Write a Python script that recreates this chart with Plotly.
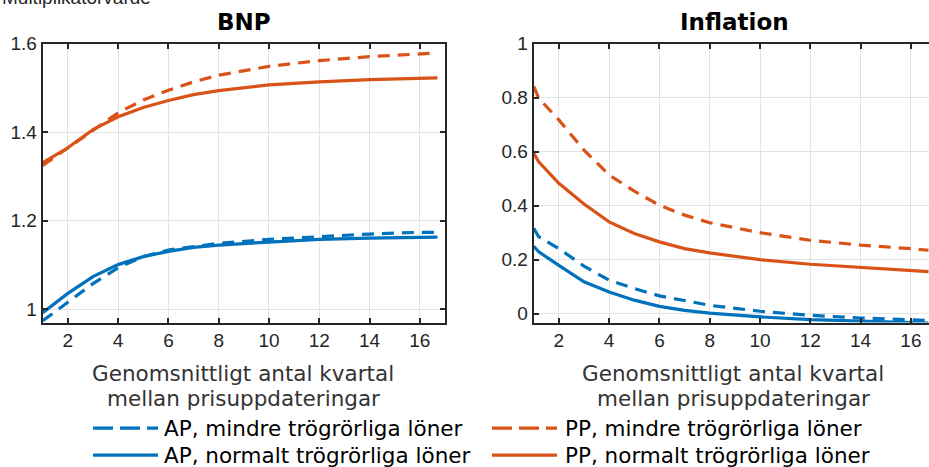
import plotly.graph_objects as go
from plotly.subplots import make_subplots

W, H = 929, 467

# ---- data ----
bnp_x = [1, 2, 3, 4, 5, 6, 7, 8, 10, 12, 14, 16, 16.7]
bnp_ap_mindre = [0.974, 1.017, 1.058, 1.094, 1.119, 1.134, 1.142, 1.149, 1.158, 1.164, 1.170, 1.174, 1.174]
bnp_ap_normalt = [0.992, 1.036, 1.074, 1.101, 1.119, 1.131, 1.140, 1.145, 1.152, 1.158, 1.161, 1.162, 1.163]
bnp_pp_mindre = [1.325, 1.365, 1.406, 1.444, 1.473, 1.495, 1.514, 1.529, 1.549, 1.562, 1.571, 1.576, 1.579]
bnp_pp_normalt = [1.331, 1.365, 1.406, 1.435, 1.456, 1.472, 1.485, 1.494, 1.507, 1.514, 1.519, 1.523, 1.523]

infl_x = [1, 1.2, 2, 3, 4, 5, 6, 7, 8, 10, 12, 14, 16, 16.7]
infl_ap_mindre = [0.316, 0.285, 0.241, 0.176, 0.124, 0.093, 0.066, 0.047, 0.031, 0.009, -0.006, -0.016, -0.022, -0.025]
infl_ap_normalt = [0.250, 0.229, 0.179, 0.118, 0.080, 0.050, 0.027, 0.012, 0.002, -0.012, -0.022, -0.028, -0.032, -0.035]
infl_pp_mindre = [0.842, 0.798, 0.718, 0.606, 0.514, 0.454, 0.402, 0.365, 0.337, 0.300, 0.272, 0.254, 0.241, 0.235]
infl_pp_normalt = [0.594, 0.563, 0.483, 0.406, 0.340, 0.297, 0.266, 0.241, 0.225, 0.200, 0.183, 0.171, 0.161, 0.156]

x_ticks = [2, 4, 6, 8, 10, 12, 14, 16]
bnp_y_ticks = [1, 1.2, 1.4, 1.6]
bnp_y_labels = ["1", "1.2", "1.4", "1.6"]
infl_y_ticks = [0, 0.2, 0.4, 0.6, 0.8, 1]
infl_y_labels = ["0", "0.2", "0.4", "0.6", "0.8", "1"]

titles = ["BNP", "Inflation"]
x_title_lines = ["Genomsnittligt antal kvartal", "mellan prisuppdateringar"]
y_title = "Multiplikatorvärde"
legend_labels = ["AP, mindre trögrörliga löner", "PP, mindre trögrörliga löner",
                 "AP, normalt trögrörliga löner", "PP, normalt trögrörliga löner"]

BLUE = "#0072BD"
ORANGE = "#D95319"
AXC = "#262626"
GRID = "#e3e3e3"
DASH = "12px,8px"


def px(x):
    return x / W


def py(y):
    # target picture y (px from top) -> paper coordinate
    yy = (y - 9.5) / 0.975
    return 1 - yy / H


fig = make_subplots(rows=1, cols=2)

series = [
    (1, bnp_x, bnp_ap_mindre, BLUE, DASH, legend_labels[0]),
    (1, bnp_x, bnp_ap_normalt, BLUE, "solid", legend_labels[2]),
    (1, bnp_x, bnp_pp_mindre, ORANGE, DASH, legend_labels[1]),
    (1, bnp_x, bnp_pp_normalt, ORANGE, "solid", legend_labels[3]),
    (2, infl_x, infl_ap_mindre, BLUE, DASH, legend_labels[0]),
    (2, infl_x, infl_ap_normalt, BLUE, "solid", legend_labels[2]),
    (2, infl_x, infl_pp_mindre, ORANGE, DASH, legend_labels[1]),
    (2, infl_x, infl_pp_normalt, ORANGE, "solid", legend_labels[3]),
]
for col, xs, ys, c, d, name in series:
    fig.add_trace(go.Scatter(x=xs, y=ys, mode="lines", name=name, showlegend=False,
                             line=dict(color=c, width=3.2, dash=d)), row=1, col=col)

tickfont = dict(family="Liberation Sans, Arial, sans-serif", size=19, color=AXC)
common_x = dict(tickvals=x_ticks, ticktext=[str(t) for t in x_ticks], ticks="inside",
                ticklen=5, tickwidth=1.5, tickcolor=AXC, showline=True, linecolor=AXC,
                linewidth=2, showgrid=True, gridcolor=GRID, gridwidth=1, zeroline=False,
                tickfont=tickfont, mirror="ticks")
common_y = dict(ticks="inside", ticklen=5, tickwidth=1.5, tickcolor=AXC, showline=True,
                linecolor=AXC, linewidth=2, showgrid=True, gridcolor=GRID, gridwidth=1,
                zeroline=False, tickfont=tickfont)

ytop, ybot = py(43.3), py(322.3)
fig.update_layout(
    xaxis=dict(common_x, domain=[px(42.7), px(445)], range=[1, 17]),
    yaxis=dict(common_y, domain=[ybot, ytop], range=[0.97, 1.6], tickvals=bnp_y_ticks,
               ticktext=bnp_y_labels, mirror="ticks"),
    xaxis2=dict(common_x, domain=[px(533.7), 1.0], range=[1, 16.72]),
    yaxis2=dict(common_y, domain=[ybot, ytop], range=[-0.033, 1], tickvals=infl_y_ticks,
                ticktext=infl_y_labels, mirror=False),
    width=W, height=H, margin=dict(l=0, r=0, t=0, b=0),
    plot_bgcolor="white", paper_bgcolor="white", showlegend=False,
)

annos = []
# titles
for t, cx in zip(titles, [244, 734]):
    annos.append(dict(text="<b>%s</b>" % t, x=px(cx), y=py(22), xref="paper", yref="paper",
                      xanchor="center", yanchor="middle", showarrow=False,
                      font=dict(family="DejaVu Sans", size=23, color="black")))
# x axis titles (two lines)
for cx in [243, 733]:
    for line, yy in zip(x_title_lines, [373, 398]):
        annos.append(dict(text=line, x=px(cx), y=py(yy), xref="paper", yref="paper",
                          xanchor="center", yanchor="middle", showarrow=False,
                          font=dict(family="DejaVu Sans", size=21.5, color="#333333")))
# y label at top left (cut off at the top edge, as in the reference)
annos.append(dict(text=y_title, x=0, y=py(-3), xref="paper", yref="paper",
                  xanchor="left", yanchor="middle", showarrow=False,
                  font=dict(family="Liberation Sans, Arial", size=19, color=AXC)))

shapes = []
legend_items = [
    (93, 158, 162, 428, BLUE, "20px,7px", legend_labels[0]),
    (492, 557, 563, 428, ORANGE, "20px,7px", legend_labels[1]),
    (93, 158, 162, 455, BLUE, "solid", legend_labels[2]),
    (492, 557, 563, 455, ORANGE, "solid", legend_labels[3]),
]
for x0, x1, tx, yy, c, d, lab in legend_items:
    shapes.append(dict(type="line", xref="paper", yref="paper", x0=px(x0), x1=px(x1),
                       y0=py(yy), y1=py(yy), line=dict(color=c, width=3.2, dash=d)))
    annos.append(dict(text=lab, x=px(tx), y=py(yy), xref="paper", yref="paper",
                      xanchor="left", yanchor="middle", showarrow=False,
                      font=dict(family="DejaVu Sans", size=21.5, color="black")))

fig.update_layout(annotations=annos, shapes=shapes)

post = ("document.body.style.margin='0';"
        "var d=document.getElementsByClassName('plotly-graph-div')[0];"
        "d.style.position='absolute';d.style.left='0px';d.style.top='0px';")
fig.write_html("out.html", post_script=post, config={"displayModeBar": False})
